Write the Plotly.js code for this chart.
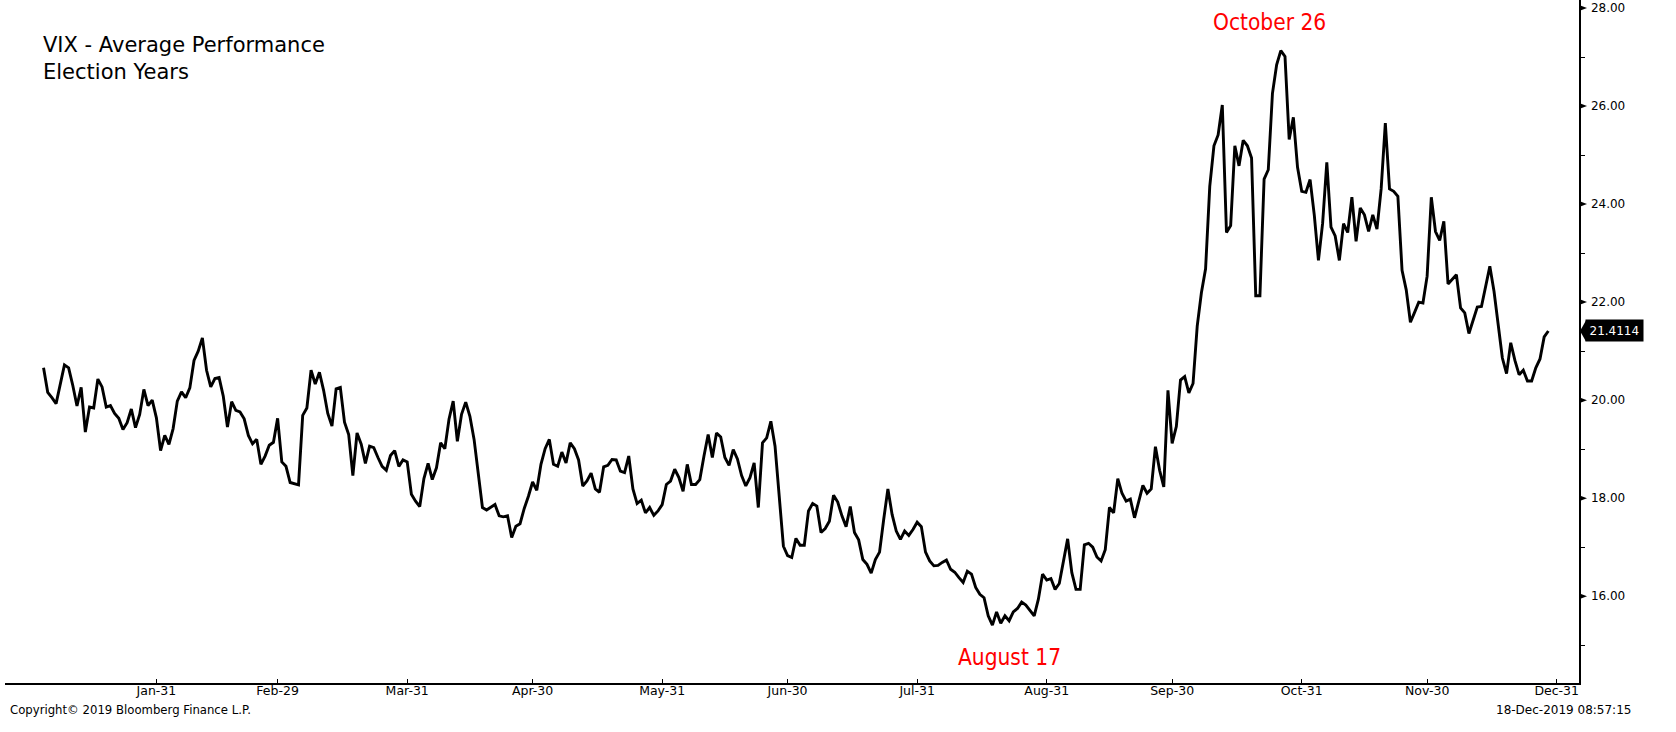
<!DOCTYPE html>
<html>
<head>
<meta charset="utf-8">
<script src="https://cdn.plot.ly/plotly-3.0.1.min.js"></script>
<style>html,body{margin:0;padding:0;background:#fff;}#chart{width:1676px;height:732px;}</style>
</head>
<body>
<div id="chart"></div>
<script>
// Day offset from 2020-01-01 (election-year calendar) and average VIX level
const dayOfYear = [
  3,4,5,6,8,9,10,11,12,13,14,15,16,17,18,19,20,21,22,23,24,25,26,27,28,29,30,
  31,32,33,34,35,36,37,38,39,40,41,42,43,44,45,46,47,48,49,50,51,52,53,54,55,56,57,58,59,
  60,61,62,64,65,66,67,68,69,70,71,72,73,74,75,76,77,78,79,80,81,82,83,84,85,86,87,88,89,90,
  91,92,93,94,95,96,97,98,99,100,101,102,103,104,105,106,108,109,111,112,113,114,115,116,117,118,119,120,
  121,122,123,124,125,126,127,128,129,130,131,132,133,134,135,136,137,138,139,140,141,142,143,144,145,146,147,148,149,150,151,
  152,153,154,155,156,157,158,159,160,161,162,163,164,165,166,167,168,169,170,171,172,173,174,175,176,177,178,180,181,
  182,183,184,185,186,187,188,189,190,191,192,193,194,195,196,197,198,199,200,201,202,203,204,205,206,207,208,209,210,211,212,
  213,214,215,216,217,218,219,220,221,222,223,224,225,226,227,228,229,230,231,232,233,234,235,236,237,238,239,240,241,242,243,
  244,245,246,248,249,250,251,252,253,254,255,256,257,258,259,260,261,262,263,264,265,266,267,268,269,270,271,272,273,
  274,275,276,277,278,279,280,281,282,283,284,285,286,287,288,289,290,291,292,293,294,295,296,297,298,299,300,301,302,303,304,
  305,306,307,308,309,310,311,312,313,314,315,316,317,318,319,320,321,322,323,324,325,326,327,328,329,330,331,332,333,334,
  335,336,337,338,339,340,341,342,343,344,345,346,347,349,350,352,353,354,355,356,357,358,359,360,361,362,363
];
const vixAvg = [
  20.66,20.16,20.05,19.93,20.72,20.66,20.30,19.88,20.26,19.35,19.86,19.84,20.43,20.27,19.86,19.89,19.73,19.63,19.40,19.54,19.82,19.44,19.71,20.22,19.89,20.00,19.64,
  18.97,19.28,19.10,19.42,19.98,20.17,20.05,20.25,20.81,21.00,21.27,20.61,20.27,20.44,20.46,20.08,19.45,19.97,19.79,19.76,19.62,19.28,19.11,19.20,18.69,18.86,19.08,19.14,19.63,
  18.74,18.65,18.32,18.27,19.69,19.84,20.61,20.33,20.57,20.20,19.73,19.47,20.23,20.26,19.55,19.30,18.46,19.33,19.10,18.71,19.06,19.03,18.83,18.65,18.57,18.87,18.97,18.65,18.78,18.74,
  18.08,17.94,17.83,18.40,18.71,18.38,18.62,19.13,19.01,19.61,19.98,19.16,19.71,19.96,19.67,19.20,17.81,17.76,17.87,17.64,17.62,17.64,17.20,17.43,17.48,17.79,18.04,18.33,
  18.16,18.69,19.01,19.20,18.69,18.65,18.94,18.72,19.13,19.01,18.78,18.25,18.35,18.51,18.19,18.12,18.64,18.67,18.79,18.78,18.55,18.52,18.86,18.19,17.89,17.96,17.70,17.81,17.65,17.74,17.87,
  18.28,18.35,18.59,18.42,18.14,18.69,18.28,18.28,18.38,18.86,19.30,18.83,19.33,19.25,18.83,18.67,18.99,18.80,18.46,18.25,18.42,18.72,17.81,19.13,19.23,19.57,19.06,17.02,16.83,
  16.79,17.18,17.04,17.04,17.74,17.89,17.84,17.30,17.38,17.53,18.06,17.92,17.64,17.42,17.83,17.30,17.15,16.75,16.65,16.47,16.75,16.90,17.57,18.19,17.67,17.33,17.16,17.33,17.24,17.36,17.51,
  17.42,16.90,16.72,16.62,16.63,16.69,16.74,16.55,16.49,16.38,16.28,16.51,16.45,16.18,16.04,15.97,15.60,15.41,15.68,15.45,15.60,15.50,15.68,15.75,15.88,15.82,15.72,15.60,15.94,16.45,16.33,
  16.36,16.14,16.26,17.17,16.48,16.14,16.14,17.05,17.08,17.00,16.80,16.72,16.95,17.81,17.70,18.40,18.10,17.94,17.98,17.60,17.94,18.26,18.10,18.19,19.05,18.57,18.23,20.20,19.12,
  19.46,20.41,20.48,20.15,20.34,21.51,22.19,22.68,24.36,25.19,25.41,26.02,23.42,23.56,25.19,24.78,25.30,25.19,24.94,22.13,22.13,24.51,24.70,26.26,26.84,27.13,27.01,25.32,25.77,24.75,24.26,
  24.24,24.50,23.78,22.85,23.61,24.85,23.53,23.35,22.85,23.60,23.42,24.14,23.24,23.92,23.78,23.44,23.78,23.49,24.31,25.65,24.31,24.26,24.16,22.65,22.25,21.59,21.79,22.00,21.98,22.53,
  24.14,23.44,23.26,23.65,22.37,22.46,22.56,21.88,21.78,21.36,21.64,21.90,21.91,22.73,22.22,20.86,20.54,21.17,20.81,20.52,20.61,20.39,20.39,20.66,20.84,21.29,21.4114
];

const xTickDates = ['2020-01-31','2020-02-29','2020-03-31','2020-04-30','2020-05-31','2020-06-30',
                    '2020-07-31','2020-08-31','2020-09-30','2020-10-31','2020-11-30','2020-12-31'];
const xTickLabels = ['Jan-31','Feb-29','Mar-31','Apr-30','May-31','Jun-30',
                     'Jul-31','Aug-31','Sep-30','Oct-31','Nov-30','Dec-31'];
const yTickValues = [16, 18, 20, 22, 24, 26, 28];
const yMinorValues = [15, 17, 19, 21, 23, 25, 27];

const titleLines = ['VIX - Average Performance', 'Election Years'];
const peakLabel = {text: 'October 26', date: '2020-10-23 06:00', value: 27.71};
const troughLabel = {text: 'August 17', date: '2020-08-22', value: 14.76};
const copyrightText = 'Copyright\u00a9 2019 Bloomberg Finance L.P.';
const stampText = '18-Dec-2019 08:57:15';

const dates = dayOfYear.map(d => new Date(Date.UTC(2020, 0, 1 + d)).toISOString().slice(0, 10));
const lastValue = vixAvg[vixAvg.length - 1];

const FONT = '"DejaVu Sans", sans-serif';
const NARROW = '"Liberation Sans Narrow", "DejaVu Sans Condensed", "DejaVu Sans", sans-serif';

const trace = {
  x: dates, y: vixAvg, type: 'scatter', mode: 'lines',
  line: {color: '#000000', width: 2.9, shape: 'linear'},
  hoverinfo: 'skip', showlegend: false
};

const shapes = yTickValues.map(v => ({
  type: 'path', xref: 'paper', xanchor: 1, xsizemode: 'pixel',
  yref: 'y', yanchor: v, ysizemode: 'pixel',
  path: 'M0,3L8,0L0,-3Z', fillcolor: '#000', line: {width: 0}
}));
// pointer of the last-value tag
shapes.push({
  type: 'path', xref: 'paper', xanchor: 1, xsizemode: 'pixel',
  yref: 'y', yanchor: lastValue, ysizemode: 'pixel',
  path: 'M1,0L7,10.5L7,-10.5Z', fillcolor: '#000', line: {width: 0}
});

const layout = {
  width: 1676, height: 732,
  margin: {l: 5, r: 97, t: 0, b: 49, pad: 0},
  paper_bgcolor: '#ffffff', plot_bgcolor: '#ffffff',
  showlegend: false,
  xaxis: {
    type: 'date', range: ['2019-12-25 18:44', '2021-01-05 08:00'],
    tickmode: 'array', tickvals: xTickDates, ticktext: xTickLabels,
    ticks: 'inside', ticklen: 4, tickwidth: 1, tickcolor: '#000',
    ticklabelstandoff: -5,
    showline: true, linecolor: '#000', linewidth: 1.5,
    showgrid: false, zeroline: false,
    tickfont: {family: FONT, size: 12.5, color: '#000'}
  },
  yaxis: {
    side: 'right', range: [14.23, 28.163],
    tickmode: 'array', tickvals: yTickValues, ticktext: yTickValues.map(v => v.toFixed(2)),
    ticks: 'outside', ticklen: 8, tickcolor: 'rgba(0,0,0,0)',
    minor: {tickvals: yMinorValues, ticks: 'outside', ticklen: 4, tickwidth: 1, tickcolor: '#000', showgrid: false},
    showline: true, linecolor: '#000', linewidth: 1.5,
    showgrid: false, zeroline: false,
    tickfont: {family: FONT, size: 12, color: '#000'}
  },
  shapes: shapes,
  annotations: [
    {xref: 'paper', yref: 'paper', x: 0.0229, y: 0.954, xanchor: 'left', yanchor: 'top', align: 'left',
     text: titleLines.join('<br>'), showarrow: false,
     font: {family: FONT, size: 21, color: '#000'}},
    {xref: 'x', yref: 'y', x: peakLabel.date, y: peakLabel.value, xanchor: 'center', yanchor: 'middle',
     text: peakLabel.text, showarrow: false, font: {family: NARROW, size: 22.5, color: '#ff0000'}},
    {xref: 'x', yref: 'y', x: troughLabel.date, y: troughLabel.value, xanchor: 'center', yanchor: 'middle',
     text: troughLabel.text, showarrow: false, font: {family: NARROW, size: 22.5, color: '#ff0000'}},
    {xref: 'paper', yref: 'y', x: 1, y: lastValue, xanchor: 'left', yanchor: 'middle', xshift: 6,
     text: lastValue.toFixed(4), showarrow: false, bgcolor: '#000', borderpad: 3.5,
     font: {family: FONT, size: 12, color: '#fff'}},
    {xref: 'paper', yref: 'paper', x: 0.0019, y: -0.0395, xanchor: 'left', yanchor: 'middle',
     text: copyrightText, showarrow: false, font: {family: FONT, size: 11.7, color: '#000'}},
    {xref: 'paper', yref: 'paper', x: 1.0343, y: -0.0395, xanchor: 'right', yanchor: 'middle',
     text: stampText, showarrow: false, font: {family: FONT, size: 12, color: '#000'}}
  ]
};

Plotly.newPlot('chart', [trace], layout, {staticPlot: true, displayModeBar: false});
</script>
</body>
</html>
